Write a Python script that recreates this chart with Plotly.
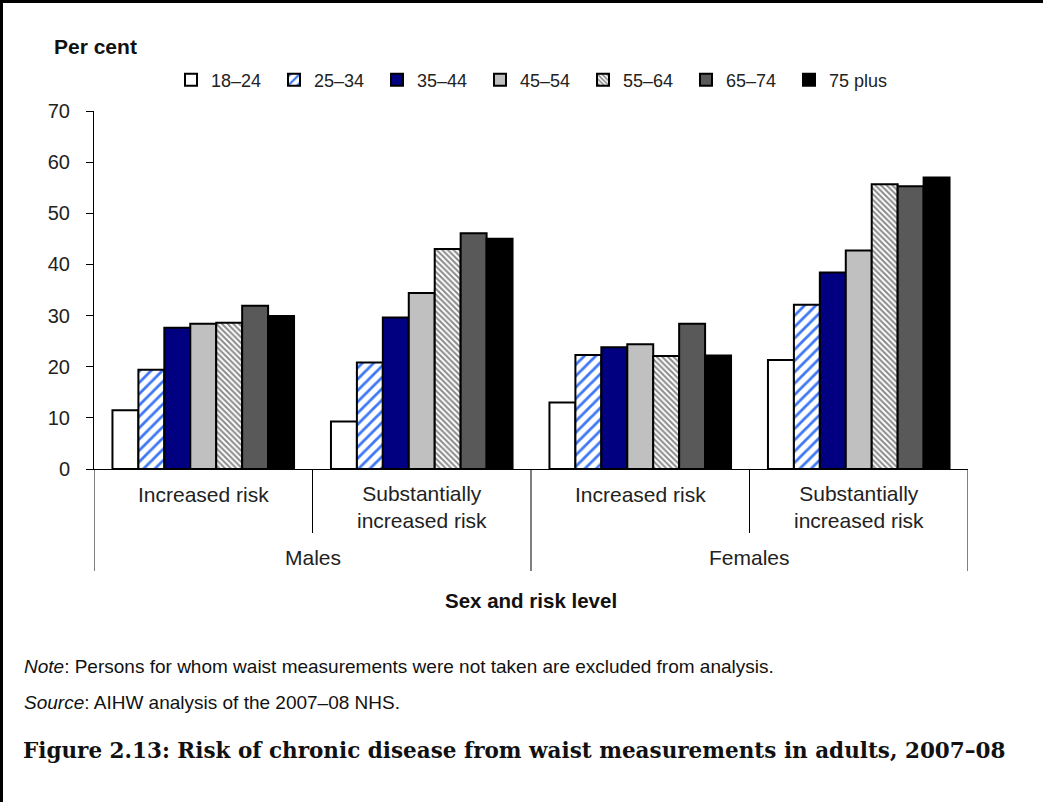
import plotly.graph_objects as go

# ---- data ----
risk_levels = ["Increased risk", "Substantially<br>increased risk",
               "Increased risk", "Substantially<br>increased risk"]
sexes = ["Males", "Females"]
age_groups = ["18–24", "25–34", "35–44", "45–54", "55–64", "65–74", "75 plus"]
v_18_24 = [11.5, 9.3, 13.0, 21.3]
v_25_34 = [19.4, 20.8, 22.3, 32.1]
v_35_44 = [27.6, 29.6, 23.8, 38.4]
v_45_54 = [28.4, 34.4, 24.4, 42.7]
v_55_64 = [28.6, 43.0, 22.1, 55.7]
v_65_74 = [31.9, 46.1, 28.4, 55.3]
v_75_plus = [29.9, 45.0, 22.2, 57.0]
y_ticks = [0, 10, 20, 30, 40, 50, 60, 70]

series = [v_18_24, v_25_34, v_35_44, v_45_54, v_55_64, v_65_74, v_75_plus]
x_pos = list(range(len(risk_levels)))

styles = [
    dict(color="white"),
    dict(color="white", pattern=dict(shape="/", fgcolor="#3F78F5", bgcolor="white",
                                     size=8, solidity=0.35, fillmode="replace")),
    dict(color="#000080"),
    dict(color="#C0C0C0"),
    dict(color="white", pattern=dict(shape="\\", fgcolor="#8A8A8A", bgcolor="white",
                                     size=4, solidity=0.5, fillmode="replace")),
    dict(color="#595959"),
    dict(color="#000000"),
]

FONT = "Liberation Sans, Arial, sans-serif"

fig = go.Figure()
for name, vals, st in zip(age_groups, series, styles):
    marker = dict(line=dict(color="black", width=2), **st)
    fig.add_trace(go.Bar(x=x_pos, y=vals, name=name, marker=marker))

W, H = 1043, 802
L, R, T, B = 94, 75, 111, 333
PH = H - T - B
PW = W - L - R


def py(pix):
    return (H - B - pix) / PH


def px(pix):
    return (pix - L) / PW


annotations = []
for i, lab in enumerate(risk_levels):
    yy = 494 if "<br>" not in lab else 507
    annotations.append(dict(x=i, y=py(yy), xref="x", yref="paper", text=lab,
                            showarrow=False, xanchor="center", yanchor="middle",
                            font=dict(family=FONT, size=21, color="#222")))
for j, s in enumerate(sexes):
    annotations.append(dict(x=0.5 + 2 * j, y=py(557), xref="x", yref="paper", text=s,
                            showarrow=False, xanchor="center", yanchor="middle",
                            font=dict(family=FONT, size=21, color="#222")))
annotations += [
    dict(x=1.5, y=py(600), xref="x", yref="paper", text="<b>Sex and risk level</b>",
         showarrow=False, xanchor="center", yanchor="middle",
         font=dict(family=FONT, size=20.5, color="#111")),
    dict(x=px(52), y=py(47), xref="paper", yref="paper", text="<b>Per cent</b>",
         showarrow=False, xanchor="left", yanchor="middle",
         font=dict(family=FONT, size=21, color="#111")),
    dict(x=px(22), y=py(666), xref="paper", yref="paper",
         text="<i>Note</i>: Persons for whom waist measurements were not taken are excluded from analysis.",
         showarrow=False, xanchor="left", yanchor="middle",
         font=dict(family=FONT, size=19, color="#111")),
    dict(x=px(22), y=py(702), xref="paper", yref="paper",
         text="<i>Source</i>: AIHW analysis of the 2007–08 NHS.",
         showarrow=False, xanchor="left", yanchor="middle",
         font=dict(family=FONT, size=19, color="#111")),
    dict(x=px(21), y=py(750), xref="paper", yref="paper",
         text="<b>Figure 2.13: Risk of chronic disease from waist measurements in adults, 2007–08</b>",
         showarrow=False, xanchor="left", yanchor="middle",
         font=dict(family="DejaVu Serif, serif", size=21.5, color="#111")),
]

shapes = []
# group dividers below axis
for xb, bottom in [(-0.5, 571), (0.5, 533), (1.5, 571), (2.5, 533), (3.5, 571)]:
    shapes.append(dict(type="line", xref="x", yref="paper", x0=xb, x1=xb,
                       y0=0, y1=py(bottom), line=dict(color="black", width=1)))
# figure frame (left and top)
shapes.append(dict(type="line", xref="paper", yref="paper", x0=px(1.5), x1=px(1.5),
                   y0=py(H), y1=py(0), line=dict(color="black", width=3)))
shapes.append(dict(type="line", xref="paper", yref="paper", x0=px(0), x1=px(W),
                   y0=py(1.5), y1=py(1.5), line=dict(color="black", width=3)))

fig.update_layout(
    width=W, height=H,
    margin=dict(l=L, r=R, t=T, b=B, pad=0),
    paper_bgcolor="white", plot_bgcolor="white",
    barmode="group", bargap=0.169, bargroupgap=0,
    font=dict(family=FONT, color="#222"),
    showlegend=True,
    legend=dict(orientation="h", x=px(171), xanchor="left", y=py(80), yanchor="middle",
                entrywidth=58, entrywidthmode="pixels",
                font=dict(family=FONT, size=18, color="#222"),
                bgcolor="rgba(0,0,0,0)", itemclick=False, itemdoubleclick=False,
                traceorder="normal"),
    xaxis=dict(range=[-0.5, 3.5], showticklabels=False, ticks="", showgrid=False,
               zeroline=False, showline=True, linecolor="black", linewidth=1,
               fixedrange=True),
    yaxis=dict(range=[0, 70], tickvals=y_ticks, ticks="outside", ticklen=7,
               tickcolor="black", tickwidth=1, showline=True, linecolor="black",
               linewidth=1, showgrid=False, zeroline=False, ticklabelstandoff=12,
               tickfont=dict(family=FONT, size=20, color="#222"), fixedrange=True),
    annotations=annotations,
    shapes=shapes,
)

fig.write_html("out.html", config={"displayModeBar": False},
               post_script="document.body.style.margin='0';document.body.style.overflow='hidden';")
